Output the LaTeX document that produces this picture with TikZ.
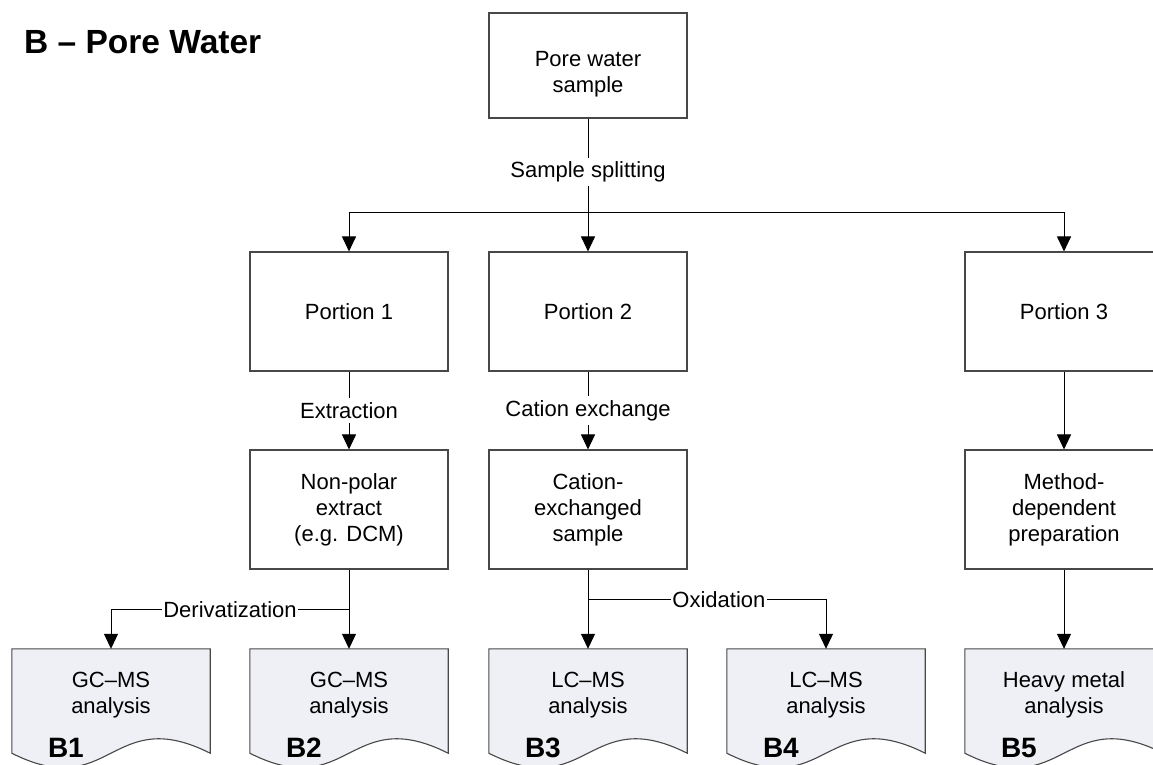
\documentclass[tikz,border=0pt]{standalone}
\usepackage{fontspec}
\setmainfont{Liberation Sans}
\usetikzlibrary{arrows.meta,calc}
\pgfdeclarelayer{background}
\pgfsetlayers{background,main}
\definecolor{docfill}{HTML}{EEF0F5}
\definecolor{bordergray}{HTML}{484848}
\newcommand\dgbody{\fontsize{22}{26}\selectfont}
\newcommand\dgtitle{\fontsize{33.5}{36}\selectfont\bfseries}
\newcommand\dgblab{\fontsize{28}{30}\selectfont\bfseries}
\begin{document}
\begin{tikzpicture}[x=1pt,y=-1pt,
  box/.style={draw=bordergray, line width=1.1pt, minimum width=198pt, minimum height=119pt, align=center, inner sep=0pt, font=\dgbody},
  doc/.style={draw=none, minimum width=198pt, minimum height=92pt, align=center, inner sep=0pt, font=\dgbody},
  docshape/.style={draw=bordergray, line width=1.1pt, fill=docfill},
  conn/.style={draw=black, line width=1pt},
  arr/.style={conn, -{Triangle[width=14pt,length=15pt]}},
  lab/.style={fill=white, inner xsep=1.5pt, inner ysep=4pt, font=\dgbody, text=black},
  plaintext/.style={align=center, inner sep=0pt, font=\dgbody},
  blab/.style={font=\dgblab, inner sep=0pt, anchor=base west},
  titlestyle/.style={font=\dgtitle, inner sep=0pt, anchor=base west}]
\useasboundingbox (0,0) rectangle (1153,764);
\clip (0,0) rectangle (1153,764);

\node[titlestyle] (title) at (24,53) {B – Pore Water};

\node[box, minimum height=105pt] (pw) at (588,65.5) {};
\node[plaintext] (pwt) at (588,74) {Pore water\\sample};
\node[box] (p1) at (349,311.5) {Portion 1};
\node[box] (p2) at (588,311.5) {Portion 2};
\node[box] (p3) at (1064,311.5) {Portion 3};
\node[box] (np) at (349,509.5) {Non-polar\\extract\\(e.g. DCM)};
\node[box] (ce) at (588,509.5) {Cation-\\exchanged\\sample};
\node[box] (md) at (1064,509.5) {Method-\\dependent\\preparation};

\node[doc] (b1) at (111,695) {GC–MS\\analysis};
\node[doc] (b2) at (349,695) {GC–MS\\analysis};
\node[doc] (b3) at (588,695) {LC–MS\\analysis};
\node[doc] (b4) at (826,695) {LC–MS\\analysis};
\node[doc] (b5) at (1064,695) {Heavy metal\\analysis};

\begin{pgfonlayer}{background}
\foreach \d in {b1,b2,b3,b4,b5}{
  \draw[docshape] (\d.north west) -- (\d.north east) -- ($(\d.south east)+(0,12)$)
    .. controls ($(\d.south)+(0,-38)$) and ($(\d.south)+(0,62)$) .. ($(\d.south west)+(0,12)$) -- cycle;
}
\end{pgfonlayer}

\node[blab] (b1l) at ($(b1.south west)+(36,16)$) {B1};
\node[blab] (b2l) at ($(b2.south west)+(36,16)$) {B2};
\node[blab] (b3l) at ($(b3.south west)+(36,16)$) {B3};
\node[blab] (b4l) at ($(b4.south west)+(36,16)$) {B4};
\node[blab] (b5l) at ($(b5.south west)+(36,16)$) {B5};

\coordinate (split) at (588,212);
\draw[conn] (pw.south) -- (split) node[lab, pos=0.57] {Sample splitting};
\draw[conn] (p1.north |- split) -- (p3.north |- split);
\draw[arr] (p1.north |- split) -- (p1.north);
\draw[arr] (split) -- (p2.north);
\draw[arr] (p3.north |- split) -- (p3.north);

\draw[arr] (p1.south) -- node[lab] {Extraction} (np.north);
\draw[arr] (p2.south) -- node[lab] {Cation exchange} (ce.north);
\draw[arr] (p3.south) -- (md.north);

\coordinate (dv) at ($(np.south)+(0,40)$);
\draw[arr] (np.south) -- (b2.north);
\draw[arr] (dv) -- node[lab, inner ysep=2pt] {Derivatization} (dv -| b1.north) -- (b1.north);

\coordinate (ox) at ($(ce.south)+(0,30)$);
\draw[arr] (ce.south) -- (b3.north);
\draw[arr] (ox) -- node[lab, pos=0.55, inner ysep=2pt] {Oxidation} (ox -| b4.north) -- (b4.north);

\draw[arr] (md.south) -- (b5.north);
\end{tikzpicture}
\end{document}
